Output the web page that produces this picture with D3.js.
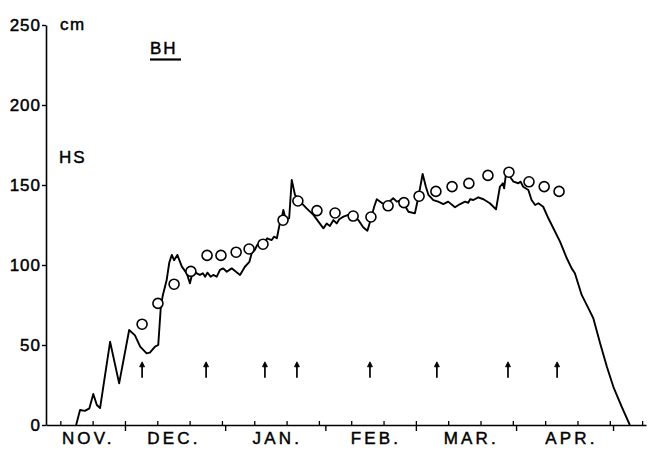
<!DOCTYPE html>
<html>
<head>
<meta charset="utf-8">
<script src="https://cdn.jsdelivr.net/npm/d3@7"></script>
<style>
  html, body { margin: 0; padding: 0; background: #fff; }
  svg { display: block; }
  text { font-family: "Liberation Sans", Arial, sans-serif; fill: #000; stroke: #000; stroke-width: 0.45px; }
</style>
</head>
<body>
<svg id="chart" width="649" height="450"></svg>
<script>
// ---- data (days counted from 1 Nov; HS in cm) ----
const lineDays = [14.9,16.1,17.6,19.0,20.2,21.3,22.3,25.4,28.2,31.3,33.1,34.7,36.7,37.7,39.3,40.3,41.1,41.7,42.9,43.7,44.5,45.2,46.2,47.6,49.1,50.1,51.1,52.2,53.2,54.1,54.8,55.5,56.5,57.3,58.4,59.4,60.4,61.5,63.0,65.6,67.1,68.5,69.2,70.2,70.9,72.3,73.3,74.0,75.4,76.1,77.0,77.8,78.5,79.0,79.8,80.8,81.6,82.6,84.2,86.2,88.3,91.4,92.4,93.4,94.5,95.5,96.3,97.6,99.1,100.6,102.2,103.7,105.0,106.0,107.1,107.9,109.4,111.0,112.0,113.0,114.1,115.6,117.7,119.7,120.8,122.1,123.1,123.9,125.4,126.9,128.5,130.0,132.1,133.7,135.2,136.2,136.8,137.8,139.3,140.9,142.9,144.8,146.0,146.9,147.3,147.9,148.3,149.1,150.2,151.7,152.4,153.2,154.8,155.8,156.9,157.9,159.4,161.0,162.5,164.6,166.7,168.2,169.2,171.3,173.4,174.9,177.0,179.1,181.1,183.7,186.2];
const lineHS = [0,9.4,8.8,10.4,19.4,12.5,10.6,52,26,59.4,56,49,44.8,45.2,49,50,74,81,90.6,101.4,106.3,103,106.3,99,94.8,88.6,96.9,94.8,93.8,94.8,92.7,95.2,92.7,93.8,92.7,96.9,97.9,95.8,97.9,93.8,98.9,102,107.3,109.4,112.5,114.6,114.6,116.7,115.6,117.7,116.7,125,129.2,134.4,128.1,129.2,153.1,143.8,139.6,135.4,131.3,122.9,126,124.4,128.1,126,128.6,130.2,131.3,130.2,128.1,123.6,121.4,128.1,136.4,141.1,138.9,137.5,140,141.7,139.6,140.6,133.3,132.3,142.7,156.9,148.9,143.8,140.6,139.6,138.1,139.6,136.1,138.1,139.6,138.9,141.1,140.6,142.3,141.1,138.6,134.8,148.9,151.1,147.9,157.3,159.8,155.2,152.1,151.1,152.1,148.9,146.9,140.6,137.5,138.6,136.4,129.2,123.1,114.6,104.2,97.9,94.8,81.3,72.9,66.7,51.1,36.4,23.9,11.4,0];

const obsDays = [35.3,40.2,45.2,50.4,55.4,59.7,64.4,68.4,72.7,78.9,83.5,89.4,95.0,100.6,106.1,111.4,116.3,121.0,126.2,131.2,136.4,142.3,148.8,155.0,159.7,164.3];
const obsHS   = [63,76,88,96,106,106,108,110,113,128,140,134,132.5,130.6,130,137,139,143,146,149,151,156,158,152,149,146];

const arrowDays = [35.3,55.1,73.3,83.2,105.8,126.5,148.5,163.7];

const yTicks = [0,50,100,150,200,250];
const monthStarts = [30,61,92,120,151,181];
const tenDayTicks = [10,20,30,40,50,60,70,80,90,100,110,120,130,140,150,160,170,180,190];
const monthLabels = ["NOV.","DEC.","JAN.","FEB.","MAR.","APR."];
const monthLabelDays = [18.5,45,77,107.5,137,168];

// ---- scales ----
const svg = d3.select("#chart");
const x = d3.scaleLinear().domain([5.57, 191.2]).range([46, 646]);
const y = d3.scaleLinear().domain([0, 250]).range([425, 25]);

// ---- y axis ----
const gy = svg.append("g").attr("transform", `translate(${x(5.57)},0)`)
  .call(d3.axisLeft(y).tickValues(yTicks).tickSize(4).tickSizeOuter(0).tickPadding(1));
gy.select(".domain").attr("stroke", "#000").attr("stroke-width", 1.6);
gy.selectAll(".tick line").attr("stroke", "#000").attr("stroke-width", 1.4);
gy.selectAll(".tick text").attr("font-size", 17).attr("letter-spacing", 1)
  .style("font-family", "'Liberation Sans', Arial, sans-serif").attr("fill", "#000");

// ---- x axis: month boundaries (down) ----
const gx = svg.append("g").attr("transform", `translate(0,${y(0)})`)
  .call(d3.axisBottom(x).tickValues(monthStarts).tickSize(6).tickSizeOuter(0).tickFormat(""));
gx.select(".domain").attr("stroke", "#000").attr("stroke-width", 1.6);
gx.selectAll(".tick line").attr("stroke", "#000").attr("stroke-width", 1.4);

// ---- x axis: 10-day ticks (up) ----
const gx2 = svg.append("g").attr("transform", `translate(0,${y(0)})`)
  .call(d3.axisBottom(x).tickValues(tenDayTicks).tickSize(-4).tickSizeOuter(0).tickFormat(""));
gx2.select(".domain").remove();
gx2.selectAll(".tick line").attr("stroke", "#000").attr("stroke-width", 1.3);

// ---- x axis: month labels ----
const gx3 = svg.append("g").attr("transform", `translate(0,${y(0)})`)
  .call(d3.axisBottom(x).tickValues(monthLabelDays).tickSize(0).tickPadding(7)
    .tickFormat((d, i) => monthLabels[i]));
gx3.select(".domain").remove();
gx3.selectAll(".tick text").attr("font-size", 17).attr("letter-spacing", 3.2)
  .style("font-family", "'Liberation Sans', Arial, sans-serif").attr("fill", "#000");

// ---- snow depth line ----
const pts = lineDays.map((d, i) => [d, lineHS[i]]);
svg.append("path")
  .datum(pts)
  .attr("fill", "none")
  .attr("stroke", "#000")
  .attr("stroke-width", 1.9)
  .attr("stroke-linejoin", "round")
  .attr("d", d3.line().x(d => x(d[0])).y(d => y(d[1])));

// ---- observed circles ----
svg.append("g").selectAll("circle")
  .data(obsDays.map((d, i) => [d, obsHS[i]]))
  .join("circle")
  .attr("cx", d => x(d[0]))
  .attr("cy", d => y(d[1]))
  .attr("r", 5)
  .attr("fill", "#fff")
  .attr("stroke", "#000")
  .attr("stroke-width", 1.6);

// ---- arrows ----
const ag = svg.append("g").attr("stroke", "#000").attr("fill", "#000");
arrowDays.forEach(d => {
  const ax = x(d), yTop = y(39.5), yBot = y(29.5);
  ag.append("line").attr("x1", ax).attr("x2", ax).attr("y1", yTop + 2).attr("y2", yBot)
    .attr("stroke-width", 1.7);
  ag.append("path").attr("d", `M${ax},${yTop} L${ax - 2.5},${yTop + 5} L${ax + 2.5},${yTop + 5} Z`)
    .attr("stroke-width", 0.8);
});

// ---- labels ----
svg.append("text").attr("x", 60).attr("y", 30).attr("font-size", 17).attr("letter-spacing", 1.5).text("cm");
svg.append("text").attr("x", 150).attr("y", 54).attr("font-size", 17).attr("letter-spacing", 2).text("BH");
svg.append("line").attr("x1", 150).attr("x2", 181).attr("y1", 59.5).attr("y2", 59.5)
  .attr("stroke", "#000").attr("stroke-width", 2.2);
svg.append("text").attr("x", 59).attr("y", 163).attr("font-size", 17).attr("letter-spacing", 2).text("HS");
</script>
</body>
</html>
